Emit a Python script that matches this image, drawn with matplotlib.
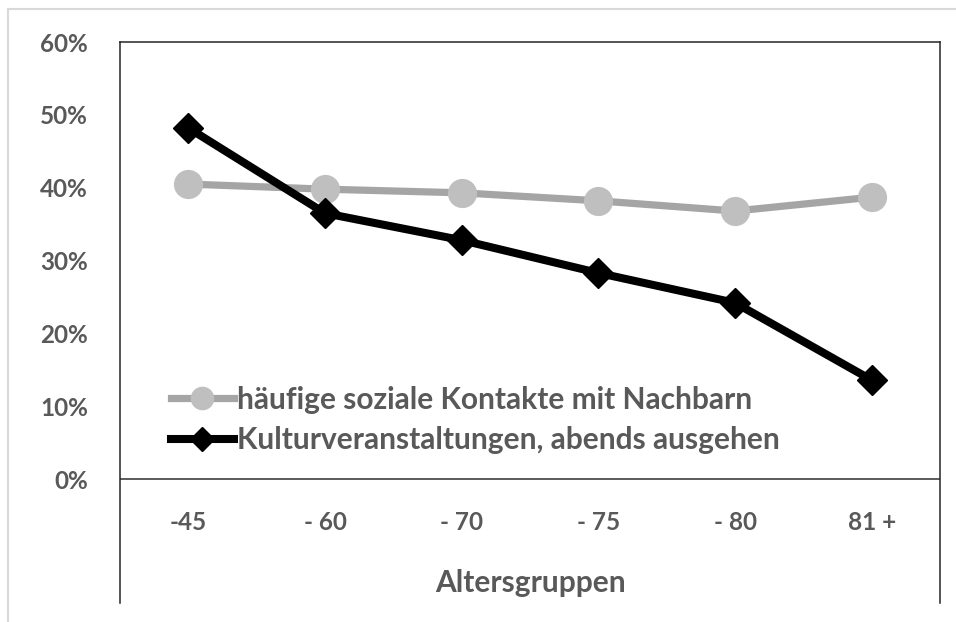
import matplotlib.pyplot as plt
from matplotlib.lines import Line2D

# data
age_groups = ["-45", "- 60", "- 70", "- 75", "- 80", "81 +"]
neighbours = [0.405, 0.398, 0.393, 0.382, 0.368, 0.387]
culture = [0.482, 0.365, 0.328, 0.283, 0.242, 0.136]
y_ticks = [0.0, 0.1, 0.2, 0.3, 0.4, 0.5, 0.6]

label_neighbours = "häufige soziale Kontakte mit Nachbarn"
label_culture = "Kulturveranstaltungen, abends ausgehen"

TEXT = "#595959"
plt.rcParams["font.family"] = ["Lato", "DejaVu Sans"]
plt.rcParams["font.weight"] = "bold"

fig = plt.figure(figsize=(9.56, 6.22), dpi=100)
ax = fig.add_axes([120 / 956, 1 - 603 / 622, 820 / 956, 561 / 622])

xs = list(range(len(age_groups)))
ax.plot(xs, neighbours, color="#a5a5a5", lw=5.2, marker="o", ms=20,
        mfc="#bfbfbf", mec="#bfbfbf", label=label_neighbours, zorder=3)
ax.plot(xs, culture, color="black", lw=5.8, marker="D", ms=15,
        mfc="black", mec="black", label=label_culture, zorder=4)

ax.set_xlim(-0.5, len(age_groups) - 0.5)
ax.set_ylim(-0.17, 0.60)
ax.axhline(0, color="#404040", lw=1.2, zorder=2)

ax.set_yticks(y_ticks)
ax.set_yticklabels([f"{int(round(v * 100))}%" for v in y_ticks])
ax.tick_params(axis="y", length=0, pad=23, labelsize=17.5, labelcolor=TEXT)
ax.set_xticks([])

for x, lab in zip(xs, age_groups):
    ax.text(x, -0.059, lab, ha="center", va="center", fontsize=17.5,
            color=TEXT, fontweight="bold")
ax.text((len(age_groups) - 1) / 2, -0.143, "Altersgruppen", ha="center",
        va="center", fontsize=21.5, color=TEXT, fontweight="bold")

for side in ["left", "right", "top"]:
    ax.spines[side].set_color("#262626")
    ax.spines[side].set_linewidth(1.1)
ax.spines["bottom"].set_visible(False)

leg = ax.legend(loc="center left", bbox_to_anchor=(0.062, 0.326),
                frameon=False, borderpad=0, borderaxespad=0,
                handlelength=2.1, handletextpad=0.12, labelspacing=0.42,
                prop={"size": 21.5, "weight": "bold"}, markerscale=0.8)
for t in leg.get_texts():
    t.set_color(TEXT)

# light outer frame of the chart area
fig.add_artist(Line2D([8 / 956, 8 / 956], [0, 1 - 9 / 622], color="#d9d9d9",
                      lw=1.5, transform=fig.transFigure))
fig.add_artist(Line2D([8 / 956, 1], [1 - 9 / 622, 1 - 9 / 622], color="#d9d9d9",
                      lw=1.5, transform=fig.transFigure))

fig.savefig("out.png", dpi=100)
